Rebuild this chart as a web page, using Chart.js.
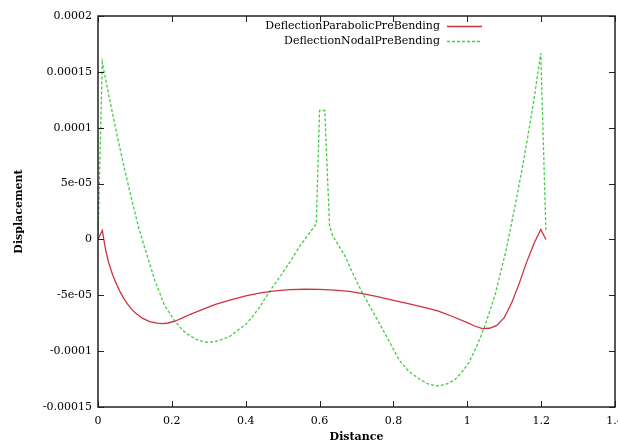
<!DOCTYPE html>
<html><head><meta charset="utf-8">
<script src="https://cdn.jsdelivr.net/npm/chart.js@4/dist/chart.umd.min.js"></script>
<style>html,body{margin:0;padding:0;background:#fff}#wrap{width:618px;height:444px}</style>
</head><body><div id="wrap"><canvas id="c" width="618" height="444"></canvas></div>
<script>
const seriesNames = ['DeflectionParabolicPreBending', 'DeflectionNodalPreBending'];
const axisTitles = ['Distance', 'Displacement'];

const parabolicX = [0, 0.0116, 0.021, 0.03, 0.04, 0.05, 0.06, 0.07, 0.08, 0.09, 0.10, 0.12, 0.14, 0.16, 0.176, 0.19, 0.21, 0.23, 0.25, 0.28, 0.32, 0.36, 0.40, 0.44, 0.48, 0.52, 0.56, 0.60, 0.64, 0.68, 0.72, 0.76, 0.80, 0.84, 0.88, 0.92, 0.96, 1.00, 1.02, 1.041, 1.06, 1.08, 1.10, 1.12, 1.14, 1.16, 1.18, 1.199, 1.213];
const parabolicY = [0, 0.8e-5, -1.0e-5, -2.2e-5, -3.2e-5, -4.0e-5, -4.7e-5, -5.3e-5, -5.8e-5, -6.2e-5, -6.55e-5, -7.05e-5, -7.35e-5, -7.5e-5, -7.54e-5, -7.48e-5, -7.3e-5, -7.0e-5, -6.7e-5, -6.3e-5, -5.8e-5, -5.4e-5, -5.05e-5, -4.78e-5, -4.6e-5, -4.5e-5, -4.46e-5, -4.47e-5, -4.53e-5, -4.65e-5, -4.88e-5, -5.15e-5, -5.45e-5, -5.75e-5, -6.05e-5, -6.4e-5, -6.9e-5, -7.45e-5, -7.75e-5, -7.99e-5, -7.95e-5, -7.7e-5, -7.0e-5, -5.7e-5, -4.0e-5, -2.1e-5, -0.4e-5, 0.89e-5, 0];

const nodalX = [0, 0.0116, 0.03, 0.05, 0.07, 0.09, 0.11, 0.127, 0.154, 0.18, 0.208, 0.23, 0.25, 0.27, 0.29, 0.303, 0.32, 0.34, 0.357, 0.38, 0.40, 0.42, 0.44, 0.465, 0.486, 0.519, 0.546, 0.568, 0.591, 0.6, 0.614, 0.627, 0.635, 0.668, 0.699, 0.717, 0.762, 0.816, 0.84, 0.87, 0.895, 0.919, 0.94, 0.965, 0.985, 1.005, 1.025, 1.046, 1.075, 1.105, 1.13, 1.154, 1.18, 1.199, 1.213];
const nodalY = [0, 15.86e-5, 12.77e-5, 9.57e-5, 6.57e-5, 3.73e-5, 1.07e-5, -0.8e-5, -3.67e-5, -5.9e-5, -7.31e-5, -8.15e-5, -8.65e-5, -9.0e-5, -9.18e-5, -9.2e-5, -9.12e-5, -8.9e-5, -8.68e-5, -8.1e-5, -7.6e-5, -6.85e-5, -5.95e-5, -4.62e-5, -3.67e-5, -2.06e-5, -0.63e-5, 0.36e-5, 1.4e-5, 11.54e-5, 11.54e-5, 1.25e-5, 0.36e-5, -1.43e-5, -3.67e-5, -4.86e-5, -7.5e-5, -10.82e-5, -11.75e-5, -12.5e-5, -12.95e-5, -13.12e-5, -13.0e-5, -12.6e-5, -11.9e-5, -11.0e-5, -9.6e-5, -7.9e-5, -5.0e-5, -0.98e-5, 3.1e-5, 7.3e-5, 12.4e-5, 16.66e-5, 0.65e-5];

const xTickValues = [0, 0.2, 0.4, 0.6, 0.8, 1, 1.2, 1.4];
const xTickLabels = ['0', '0.2', '0.4', '0.6', '0.8', '1', '1.2', '1.4'];
const yTickValues = [-0.00015, -0.0001, -0.00005, 0, 0.00005, 0.0001, 0.00015, 0.0002];
const yTickLabels = ['-0.00015', '-0.0001', '-5e-05', '0', '5e-05', '0.0001', '0.00015', '0.0002'];

const FONT = 'DejaVu Serif';

const framePlugin = {
  id: 'frame',
  afterDatasetsDraw(chart) {
    const {ctx, chartArea: {left, right, top, bottom}, scales: {x, y}} = chart;
    ctx.save();
    ctx.strokeStyle = '#222';
    ctx.lineWidth = 1;
    ctx.beginPath();
    x.ticks.forEach(t => {
      const px = Math.round(x.getPixelForValue(t.value)) + 0.5;
      ctx.moveTo(px, bottom); ctx.lineTo(px, bottom - 6);
      ctx.moveTo(px, top); ctx.lineTo(px, top + 6);
    });
    y.ticks.forEach(t => {
      const py = Math.round(y.getPixelForValue(t.value)) + 0.5;
      ctx.moveTo(left, py); ctx.lineTo(left + 6, py);
      ctx.moveTo(right, py); ctx.lineTo(right - 6, py);
    });
    ctx.stroke();
    ctx.lineWidth = 1.5;
    ctx.strokeRect(left, top, right - left, bottom - top);
    ctx.restore();
  },
  afterDraw(chart) {
    const {ctx} = chart;
    ctx.save();
    ctx.font = '11px "' + FONT + '"';
    ctx.fillStyle = '#000';
    ctx.textAlign = 'right';
    ctx.textBaseline = 'middle';
    chart.data.datasets.forEach((ds, i) => {
      const yy = 26 + i * 15;
      ctx.fillText(ds.label, 440, yy);
      ctx.beginPath();
      ctx.strokeStyle = ds.borderColor;
      ctx.lineWidth = ds.borderWidth;
      ctx.setLineDash(ds.borderDash || []);
      ctx.moveTo(447, yy + 0.5); ctx.lineTo(482, yy + 0.5);
      ctx.stroke();
    });
    ctx.restore();
  }
};

const ctx = document.getElementById('c').getContext('2d');
new Chart(ctx, {
  type: 'scatter',
  data: {
    datasets: [
      {
        label: seriesNames[0],
        data: parabolicX.map((x, i) => ({x, y: parabolicY[i]})),
        showLine: true, borderColor: '#cc3340', borderWidth: 1.3,
        tension: 0, pointRadius: 0, fill: false
      },
      {
        label: seriesNames[1],
        data: nodalX.map((x, i) => ({x, y: nodalY[i]})),
        showLine: true, borderColor: '#44cc44', borderWidth: 1.3, borderDash: [3, 2],
        tension: 0, pointRadius: 0, fill: false
      }
    ]
  },
  options: {
    responsive: false, animation: false, events: [],
    layout: {padding: {top: 16, right: 3, left: 0, bottom: 0}},
    plugins: {legend: {display: false}, tooltip: {enabled: false}},
    scales: {
      x: {
        type: 'linear', min: 0, max: 1.4,
        afterBuildTicks: s => { s.ticks = xTickValues.map(v => ({value: v})); },
        afterFit: s => { s.height = 37; s.paddingLeft = 0; s.paddingRight = 0; },
        grid: {display: false, drawTicks: false},
        border: {display: false},
        ticks: {padding: 8, color: '#000', maxRotation: 0, autoSkip: false,
          font: {family: FONT, size: 11},
          callback: (v, i) => xTickLabels[i]},
        title: {display: true, text: axisTitles[0], color: '#000',
          font: {family: FONT, size: 11, weight: 'bold'}, padding: {top: 0, bottom: 0}}
      },
      y: {
        type: 'linear', min: -0.00015, max: 0.0002,
        afterBuildTicks: s => { s.ticks = yTickValues.map(v => ({value: v})); },
        afterFit: s => { s.width = 98; s.paddingTop = 0; s.paddingBottom = 0; },
        grid: {display: false, drawTicks: false},
        border: {display: false},
        ticks: {padding: 6, color: '#000', autoSkip: false,
          font: {family: FONT, size: 11},
          callback: (v, i) => yTickLabels[i]},
        title: {display: true, text: axisTitles[1], color: '#000',
          font: {family: FONT, size: 11, weight: 'bold'}, padding: {top: 13, bottom: 0}}
      }
    }
  },
  plugins: [framePlugin]
});
</script></body></html>
